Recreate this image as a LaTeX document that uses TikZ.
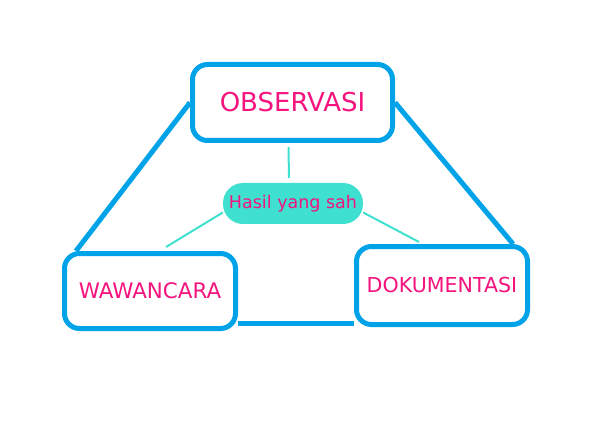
\documentclass[tikz,border=0pt]{standalone}
\usepackage{fontspec}
\setmainfont{DejaVu Sans}
\usepackage{tikz}
\usetikzlibrary{backgrounds}
\definecolor{ourblue}{HTML}{00A2E8}
\definecolor{ourpink}{HTML}{F5137E}
\definecolor{ourturquoise}{HTML}{40E0D0}

\begin{document}
\begin{tikzpicture}[x=1pt,y=-1pt]

  \tikzstyle{method}=[draw=ourblue, line width=5pt, fill=white,
                      rounded corners=15pt, text=ourpink]
  \tikzstyle{result}=[fill=ourturquoise, rounded corners=20pt,
                      minimum width=140pt, minimum height=41pt, text=ourpink]
  \tikzstyle{edge}=[draw=ourblue, line width=5pt]
  \tikzstyle{link}=[draw=ourturquoise, line width=2pt]

  \useasboundingbox (0,0) rectangle (599,430);

  \path
  (292.5,102.5) node[method, minimum width=200pt, minimum height=76pt](obs)
     {\fontsize{26}{30}\selectfont OBSERVASI};

  \path
  (150,291) node[method, minimum width=171pt, minimum height=75pt](waw)
     {\fontsize{21.4}{25}\selectfont WAWANCARA}
  (442,285.5) node[method, minimum width=171pt, minimum height=78pt](dok)
     {\fontsize{20.6}{24}\selectfont DOKUMENTASI};

  \path
  (293,203.5) node[result](hasil){\fontsize{17.5}{20}\selectfont Hasil yang sah};

  \coordinate (lw) at (166,247);
  \coordinate (rw) at (419,242);

  % thick frame behind the boxes
  \begin{scope}[on background layer]
  \draw[edge] (obs.west) -- ([xshift=14pt]waw.north west);
  \draw[edge] (obs.east) -- ([xshift=-17pt]dok.north east);
  \draw[edge] ([yshift=8pt]waw.south east) -- ([yshift=8pt]waw.south east -| dok.west);
  \end{scope}

  \draw[link, shorten <=4pt, shorten >=5pt] ([xshift=-4pt]obs.south) -- ([xshift=-4pt]hasil.north);
  \draw[link] ([yshift=-9pt]hasil.west) -- (lw);
  \draw[link] ([yshift=-9pt]hasil.east) -- (rw);

\end{tikzpicture}
\end{document}
